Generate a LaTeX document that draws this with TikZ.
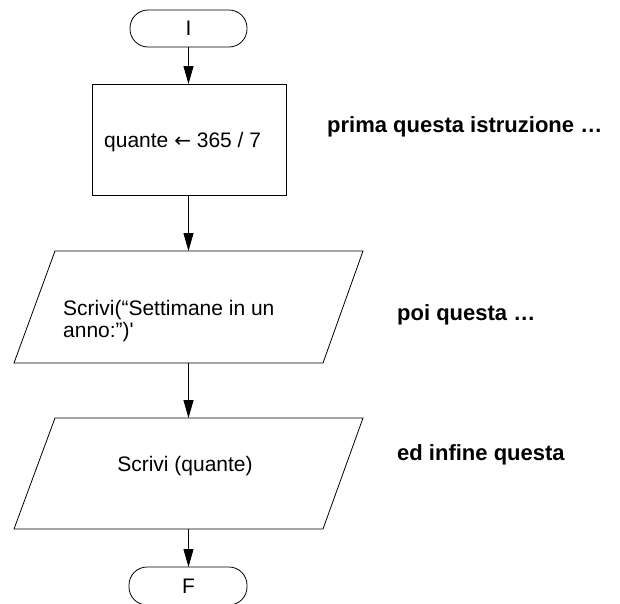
\documentclass[tikz,border=0pt]{standalone}
\usepackage{fontspec}
\setmainfont{Liberation Sans}[Ligatures=TeXOff]
\newfontfamily\arrowfont{DejaVu Sans}
\usetikzlibrary{arrows.meta}
\begin{document}
\begin{tikzpicture}[x=1pt,y=-1pt,
  shape line/.style={draw=black,line width=0.8pt},
  term/.style={shape line,rounded corners=18pt},
  flow/.style={line width=0.8pt,-{Triangle[length=18pt,width=10pt]}},
  txt/.style={inner sep=0pt,font=\fontsize{21}{22}\selectfont},
  note/.style={inner sep=0pt,font=\fontsize{22}{24}\selectfont\bfseries}]
\useasboundingbox (0,0) rectangle (620,603);
% start terminal
\draw[term] (130,10) rectangle (247,47);
\coordinate (Is) at (188.5,47);
\node[txt,anchor=base] (Itxt) at (188.5,35) {I};
% process box
\draw[shape line] (92,84) rectangle (286,195);
\coordinate (Bn) at (188.5,84);
\coordinate (Bs) at (188.5,195);
\node[txt,anchor=base west] (Btxt) at (104,147.5) {quante {\arrowfont\fontsize{20}{22}\selectfont ←} 365 / 7};
% parallelogram 1
\draw[shape line] (55,251) -- (363,251) -- (323,363) -- (14,363) -- cycle;
\coordinate (P1n) at (188.5,251);
\coordinate (P1s) at (188.5,363);
\node[txt,anchor=base west] (P1txt) at (63,315) {Scrivi(“Settimane in un};
\node[txt,anchor=base west] (P1txtb) at (63,337) {anno:”)'};
% parallelogram 2
\draw[shape line] (55,418) -- (363,418) -- (323,529) -- (14,529) -- cycle;
\coordinate (P2n) at (188.5,418);
\coordinate (P2s) at (188.5,529);
\node[txt,anchor=base] (P2txt) at (185,471.5) {Scrivi (quante)};
% end terminal
\draw[term] (129,567) rectangle (247,605);
\coordinate (Fn) at (188.5,567);
\node[txt,anchor=base] (Ftxt) at (188.5,593) {F};
% connectors
\draw[flow] (Is) -- (Bn);
\draw[flow] (Bs) -- (P1n);
\draw[flow] (P1s) -- (P2n);
\draw[flow] (P2s) -- (Fn);
% notes
\node[note,anchor=base west] (n1) at (327,132) {prima questa istruzione …};
\node[note,anchor=base west] (n2) at (397,320) {poi questa …};
\node[note,anchor=base west] (n3) at (397,460) {ed infine questa};
\end{tikzpicture}
\end{document}
